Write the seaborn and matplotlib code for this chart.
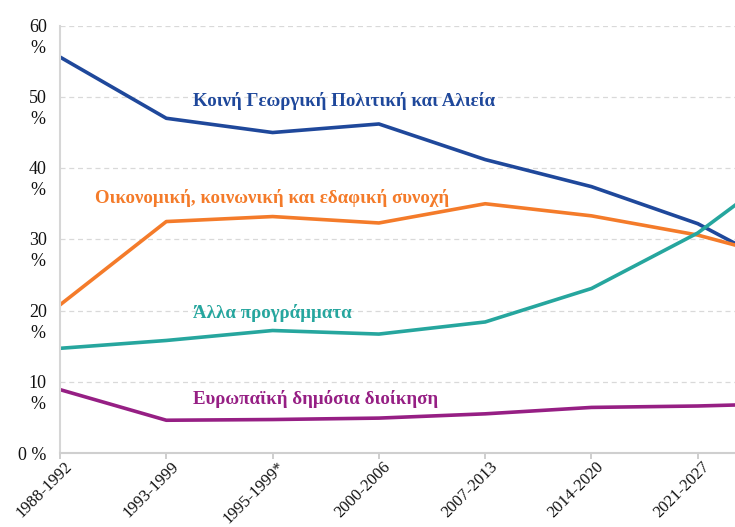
import numpy as np
import pandas as pd
import matplotlib
matplotlib.use("Agg")
import matplotlib.pyplot as plt
import matplotlib.transforms as mtransforms
import seaborn as sns

# ---- data ----
periods = ["1988-1992", "1993-1999", "1995-1999*", "2000-2006",
           "2007-2013", "2014-2020", "2021-2027"]
# last value of each series lies past the visible right edge of the chart
cap = [55.6, 47.0, 45.0, 46.2, 41.2, 37.4, 32.2, 24.3]
cohesion = [20.8, 32.5, 33.2, 32.3, 35.0, 33.3, 30.6, 26.6]
other = [14.7, 15.8, 17.2, 16.7, 18.4, 23.1, 30.9, 42.0]
admin = [8.9, 4.6, 4.7, 4.9, 5.5, 6.4, 6.6, 7.0]

series_names = ["Κοινή Γεωργική Πολιτική και Αλιεία",
                "Οικονομική, κοινωνική και εδαφική συνοχή",
                "Άλλα προγράμματα",
                "Ευρωπαϊκή δημόσια διοίκηση"]
series_values = [cap, cohesion, other, admin]
colors = ["#1f489b", "#f47b2a", "#26a69e", "#961f84"]
yticks = [0, 10, 20, 30, 40, 50, 60]
ytick_labels = ["0 %", "10\n%", "20\n%", "30\n%", "40\n%", "50\n%", "60\n%"]

rows = []
for name, vals in zip(series_names, series_values):
    for i, v in enumerate(vals):
        rows.append({"pos": i, "value": v, "series": name})
df = pd.DataFrame(rows)

sns.set_theme(style="white")
plt.rcParams["font.family"] = ["Liberation Serif", "DejaVu Serif"]

fig = plt.figure(figsize=(7.35, 5.27), dpi=100)
ax = fig.add_axes([60 / 735, 74 / 527, 675 / 735, 427.3 / 527])

sns.lineplot(data=df, x="pos", y="value", hue="series",
             hue_order=series_names, palette=colors, linewidth=2.6,
             legend=False, ax=ax, sort=False)

ax.set_xlim(0, 6.35)
ax.set_ylim(0, 60)
ax.set_xlabel("")
ax.set_ylabel("")

ax.set_xticks(range(len(periods)))
ax.set_xticklabels(periods, rotation=45, ha="right", va="center",
                   rotation_mode="anchor", fontsize=12, color="#111111")
ax.tick_params(axis="x", length=4, color="#c8c8c8", pad=2, bottom=True)
for lab in ax.get_xticklabels():
    lab.set_transform(lab.get_transform() +
                      mtransforms.ScaledTranslation(7 / 72, -2 / 72, fig.dpi_scale_trans))

ax.set_yticks(yticks)
ax.set_yticklabels(ytick_labels, fontsize=13, color="#111111")
ax.tick_params(axis="y", length=0, pad=9.5)
for lab, t in zip(ax.get_yticklabels(), ytick_labels):
    if "\n" in t:
        lab.set_va("top")
        lab.set_multialignment("center")
        lab.set_linespacing(1.3)
        lab.set_transform(lab.get_transform() +
                          mtransforms.ScaledTranslation(0, 5 / 72, fig.dpi_scale_trans))

ax.yaxis.grid(True, linestyle=(0, (4, 3)), color="#d9d9d9", linewidth=0.9)
ax.xaxis.grid(False)
for s in ["top", "right"]:
    ax.spines[s].set_visible(False)
ax.spines["left"].set_color("#d6d6d6")
ax.spines["left"].set_linewidth(1.5)
ax.spines["bottom"].set_color("#cfcfcf")
ax.spines["bottom"].set_linewidth(1.5)

labels_pos = [(1.25, 49.4), (0.33, 35.8), (1.25, 19.7), (1.25, 7.6)]
for name, c, (x, y) in zip(series_names, colors, labels_pos):
    ax.text(x, y, name, color=c, fontsize=13.6, fontweight="bold",
            ha="left", va="center")

fig.savefig("out.png", dpi=100)
